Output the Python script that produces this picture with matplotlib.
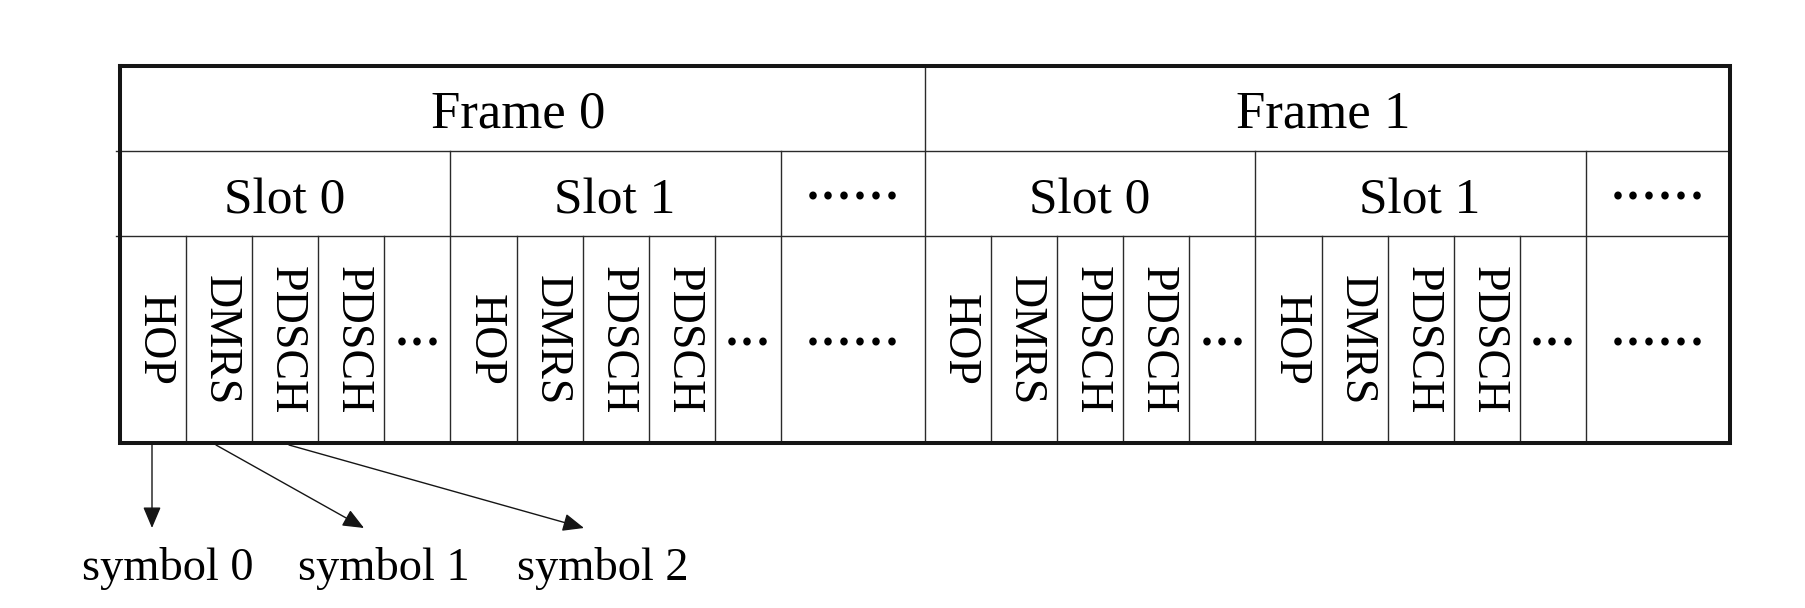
import matplotlib.pyplot as plt
from matplotlib.patches import ArrowStyle

frames = ['Frame 0', 'Frame 1']
slots = ['Slot 0', 'Slot 1']
more = '......'
symbols = ['HOP', 'DMRS', 'PDSCH', 'PDSCH', '...']
notes = ['symbol 0', 'symbol 1', 'symbol 2']

serif = ['Liberation Serif', 'DejaVu Serif']

fig = plt.figure(figsize=(18.06, 6.08), dpi=100)
ax = fig.add_axes([0, 0, 1, 1])
ax.set_xlim(0, 1806)
ax.set_ylim(608, 0)
ax.axis('off')

x0, x1 = 120, 1730          # outer box
y0, y1, y2, y3 = 66, 151, 236, 443   # row borders
cw = 66.1                   # one symbol column
fw = (x1 - x0) / len(frames)
sw = cw * len(symbols)

thin = dict(color='#2a2a2a', lw=1.0)
dots = dict(family=serif, fontsize=46, fontweight='normal',
            ha='center', va='baseline')

# horizontal separators (stick out a bit on the left)
for y in (y1, y2):
    ax.plot([x0 - 4, x1], [y, y], **thin)

for i, fr in enumerate(frames):
    fx = x0 + i * fw
    if i > 0:
        ax.plot([fx, fx], [y0, y3], **thin)
    ax.text(fx + fw / 2 - 4, 128, fr, family=serif, fontsize=38,
            ha='center', va='baseline')
    for j, sl in enumerate(slots):
        sx = fx + j * sw
        if j > 0:
            ax.plot([sx, sx], [y1, y3], **thin)
        ax.text(sx + sw / 2 - 1, 214, sl, family=serif, fontsize=37,
                ha='center', va='baseline')
        for k, sym in enumerate(symbols):
            cx = sx + k * cw
            if k > 0:
                ax.plot([cx, cx], [y2, y3], **thin)
            if sym == '...':
                ax.text(cx + cw / 2, 346, sym, **dots)
            else:
                ax.text(cx + cw / 2 + 1, 340, sym, family=serif, fontsize=33,
                        rotation=-90, ha='center', va='center')
    # "more slots" column
    mx = fx + len(slots) * sw
    ax.plot([mx, mx], [y1, y3], **thin)
    mc = (mx + fx + fw) / 2
    ax.text(mc, 200, more, **dots)
    ax.text(mc, 345, more, **dots)

# outer box
ax.plot([x0, x1, x1, x0, x0], [y0, y0, y3, y3, y0], color='#151515',
        lw=2.9, solid_joinstyle='miter')

# symbol callouts
starts = [152, 216, 289]
ends = [(152, 528), (364, 528), (584, 528)]
text_x = [168, 384, 603]
head = ArrowStyle('-|>', head_length=1.3, head_width=0.55)
for s, e, tx, lab in zip(starts, ends, text_x, notes):
    ax.annotate('', xy=e, xytext=(s, y3 + 2),
                arrowprops=dict(arrowstyle=head, mutation_scale=10,
                                color='#151515', lw=1.0,
                                shrinkA=0, shrinkB=0))
    ax.text(tx, 580, lab, family=serif, fontsize=33.5,
            ha='center', va='baseline')

fig.savefig('out.png', dpi=100, facecolor='white')
